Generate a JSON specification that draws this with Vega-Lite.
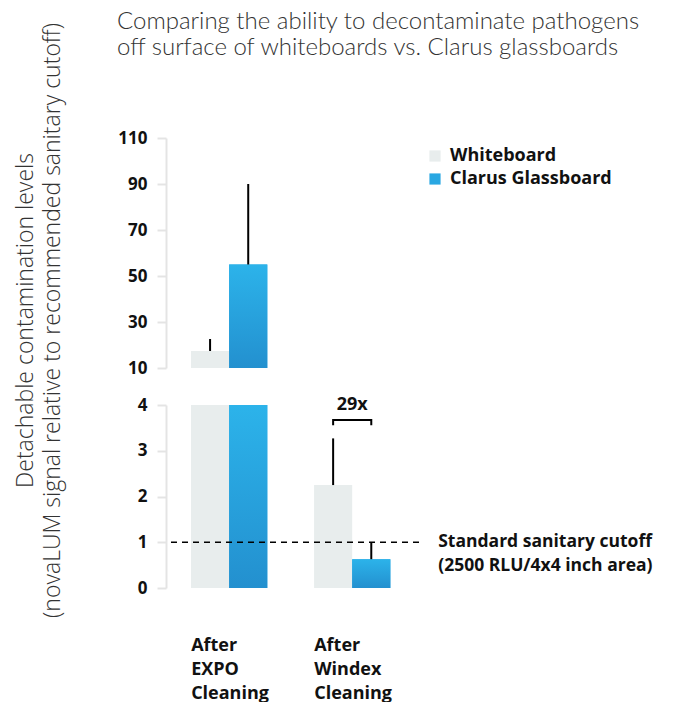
{
  "$schema": "https://vega.github.io/schema/vega-lite/v6.json",
  "padding": {"left": 13, "top": 9, "right": 5, "bottom": 5},
  "bounds": "flush",
  "spacing": 37,
  "config": {"view": {"stroke": null}, "font": "Open Sans"},
  "title": {
    "text": ["Comparing the ability to decontaminate pathogens", "off surface of whiteboards vs. Clarus glassboards"],
    "anchor": "start", "font": "Lato", "fontSize": 24, "fontWeight": 300, "color": "#333333",
    "lineHeight": 26, "offset": -37, "dx": 103
  },
  "datasets": {
    "bars": [
      {"cleaning": "After EXPO Cleaning", "board": "Whiteboard", "value": 17.4, "error": 22.6},
      {"cleaning": "After EXPO Cleaning", "board": "Clarus Glassboard", "value": 55, "error": 90},
      {"cleaning": "After Windex Cleaning", "board": "Whiteboard", "value": 2.25, "error": 3.27},
      {"cleaning": "After Windex Cleaning", "board": "Clarus Glassboard", "value": 0.63, "error": 1.0}
    ],
    "bracket": [
      {"cleaning": "After Windex Cleaning", "board": "Whiteboard", "y": 3.56, "order": 1},
      {"cleaning": "After Windex Cleaning", "board": "Whiteboard", "y": 3.67, "order": 2},
      {"cleaning": "After Windex Cleaning", "board": "Clarus Glassboard", "y": 3.67, "order": 3},
      {"cleaning": "After Windex Cleaning", "board": "Clarus Glassboard", "y": 3.56, "order": 4}
    ]
  },
  "resolve": {"scale": {"y": "independent"}},
  "vconcat": [
    {
      "width": 253, "height": 230,
      "data": {"name": "bars"},
      "encoding": {
        "x": {"field": "cleaning", "type": "nominal", "sort": ["After EXPO Cleaning", "After Windex Cleaning"], "scale": {"paddingInner": 0.38, "paddingOuter": 0.218, "align": 0.466}, "axis": null},
        "xOffset": {"field": "board", "type": "nominal", "sort": ["Whiteboard", "Clarus Glassboard"], "scale": {"paddingInner": 0, "paddingOuter": 0}}
      },
      "layer": [
        {
          "mark": {"type": "bar"},
          "encoding": {
            "y": {"field": "value", "type": "quantitative", "scale": {"domain": [10, 110], "clamp": true},
              "axis": {"values": [10, 30, 50, 70, 90, 110], "grid": false, "domainColor": "#e4e4e4", "domainWidth": 2, "tickColor": "#e4e4e4", "tickWidth": 2, "tickSize": 9, "labelPadding": 10, "labelFont": "Open Sans", "labelFontSize": 17, "labelFontWeight": "bold", "labelColor": "#111111", "title": null}},
            "color": {"field": "board", "type": "nominal", "sort": ["Whiteboard", "Clarus Glassboard"],
              "scale": {"domain": ["Whiteboard", "Clarus Glassboard"], "range": ["#e8eded", "#29a7e2"]},
              "legend": {"title": null, "orient": "none", "legendX": 260, "legendY": 9, "symbolType": "square", "symbolSize": 125, "symbolStrokeWidth": 0, "symbolOpacity": 1, "labelFont": "Open Sans", "labelFontSize": 18, "labelFontWeight": "bold", "labelColor": "#111111", "labelLimit": 400, "rowPadding": 5, "labelOffset": 6}}
          }
        },
        {
          "transform": [{"filter": "datum.board == 'Clarus Glassboard'"}],
          "mark": {"type": "bar", "color": {"gradient": "linear", "x1": 0, "y1": 0, "x2": 0, "y2": 1, "stops": [{"offset": 0, "color": "#2cb3ea"}, {"offset": 1, "color": "#2390cf"}]}},
          "encoding": {
            "y": {"field": "value", "type": "quantitative"}
          }
        },
        {
          "transform": [{"filter": "datum.error > 10"}],
          "mark": {"type": "rule", "color": "#000000", "strokeWidth": 2},
          "encoding": {
            "y": {"field": "value", "type": "quantitative"},
            "y2": {"field": "error"}
          }
        }
      ]
    },
    {
      "width": 253, "height": 183,
      "layer": [
        {
          "data": {"name": "bars"},
          "mark": {"type": "bar"},
          "encoding": {
            "x": {"field": "cleaning", "type": "nominal", "sort": ["After EXPO Cleaning", "After Windex Cleaning"], "scale": {"paddingInner": 0.38, "paddingOuter": 0.218, "align": 0.466},
              "axis": {"title": null, "domain": false, "ticks": false, "labelAngle": 0, "labelExpr": "split(datum.label, ' ')", "labelAlign": "left", "labelBaseline": "top", "labelOffset": -38, "labelPadding": 48, "labelFont": "Open Sans", "labelFontSize": 18, "labelFontWeight": "bold", "labelColor": "#111111", "labelLineHeight": 24}},
            "xOffset": {"field": "board", "type": "nominal", "sort": ["Whiteboard", "Clarus Glassboard"], "scale": {"paddingInner": 0, "paddingOuter": 0}},
            "y": {"field": "value", "type": "quantitative", "scale": {"domain": [0, 4], "clamp": true},
              "axis": {"values": [0, 1, 2, 3, 4], "grid": false, "domainColor": "#e4e4e4", "domainWidth": 2, "tickColor": "#e4e4e4", "tickWidth": 2, "tickSize": 9, "labelPadding": 10, "labelFont": "Open Sans", "labelFontSize": 17, "labelFontWeight": "bold", "labelColor": "#111111",
                "title": ["Detachable contamination levels", "(novaLUM signal relative to recommended sanitary cutoff)"],
                "titleFont": "Open Sans", "titleFontWeight": 300, "titleFontSize": 23, "titleColor": "#333333", "titleLineHeight": 27, "titleAngle": 270, "titleAlign": "center", "titleBaseline": "middle", "titleX": -141, "titleY": -85, "titleLimit": 800}},
            "color": {"field": "board", "type": "nominal", "sort": ["Whiteboard", "Clarus Glassboard"],
              "scale": {"domain": ["Whiteboard", "Clarus Glassboard"], "range": ["#e8eded", "#29a7e2"]},
              "legend": {"title": null, "orient": "none", "legendX": 260, "legendY": 9, "symbolType": "square", "symbolSize": 125, "symbolStrokeWidth": 0, "symbolOpacity": 1, "labelFont": "Open Sans", "labelFontSize": 18, "labelFontWeight": "bold", "labelColor": "#111111", "labelLimit": 400, "rowPadding": 5, "labelOffset": 6}}
          }
        },
        {
          "data": {"name": "bars"},
          "transform": [{"filter": "datum.board == 'Clarus Glassboard'"}],
          "mark": {"type": "bar", "color": {"gradient": "linear", "x1": 0, "y1": 0, "x2": 0, "y2": 1, "stops": [{"offset": 0, "color": "#2cb3ea"}, {"offset": 1, "color": "#2390cf"}]}},
          "encoding": {
            "x": {"field": "cleaning", "type": "nominal", "sort": ["After EXPO Cleaning", "After Windex Cleaning"]},
            "xOffset": {"field": "board", "type": "nominal", "sort": ["Whiteboard", "Clarus Glassboard"]},
            "y": {"field": "value", "type": "quantitative"}
          }
        },
        {
          "data": {"values": [{"label": "cutoff"}]},
          "mark": {"type": "rule", "color": "#000000", "strokeWidth": 1.5, "strokeDash": [6, 5]},
          "encoding": {"y": {"datum": 1}}
        },
        {
          "data": {"name": "bars"},
          "transform": [{"filter": "datum.value < 4"}],
          "mark": {"type": "rule", "color": "#000000", "strokeWidth": 2},
          "encoding": {
            "x": {"field": "cleaning", "type": "nominal", "sort": ["After EXPO Cleaning", "After Windex Cleaning"]},
            "xOffset": {"field": "board", "type": "nominal", "sort": ["Whiteboard", "Clarus Glassboard"]},
            "y": {"field": "value", "type": "quantitative"},
            "y2": {"field": "error"}
          }
        },
        {
          "data": {"name": "bracket"},
          "mark": {"type": "line", "color": "#000000", "strokeWidth": 2},
          "encoding": {
            "x": {"field": "cleaning", "type": "nominal", "sort": ["After EXPO Cleaning", "After Windex Cleaning"]},
            "xOffset": {"field": "board", "type": "nominal", "sort": ["Whiteboard", "Clarus Glassboard"]},
            "y": {"field": "y", "type": "quantitative"},
            "order": {"field": "order", "type": "quantitative"}
          }
        },
        {
          "data": {"values": [{"label": "29x"}]},
          "mark": {"type": "text", "font": "Open Sans", "fontSize": 18, "fontWeight": "bold", "baseline": "alphabetic", "align": "center", "color": "#111111"},
          "encoding": {
            "x": {"datum": "After Windex Cleaning"},
            "y": {"datum": 3.9},
            "text": {"field": "label"}
          }
        },
        {
          "data": {"values": [{"label": "cutoff"}]},
          "mark": {"type": "text", "font": "Open Sans", "fontSize": 17.5, "fontWeight": "bold", "baseline": "middle", "align": "left", "dx": 86, "lineHeight": 24, "color": "#111111"},
          "encoding": {
            "x": {"datum": "After Windex Cleaning"},
            "y": {"datum": 1},
            "text": {"value": ["Standard sanitary cutoff", "(2500 RLU/4x4 inch area)"]}
          }
        }
      ]
    }
  ]
}
